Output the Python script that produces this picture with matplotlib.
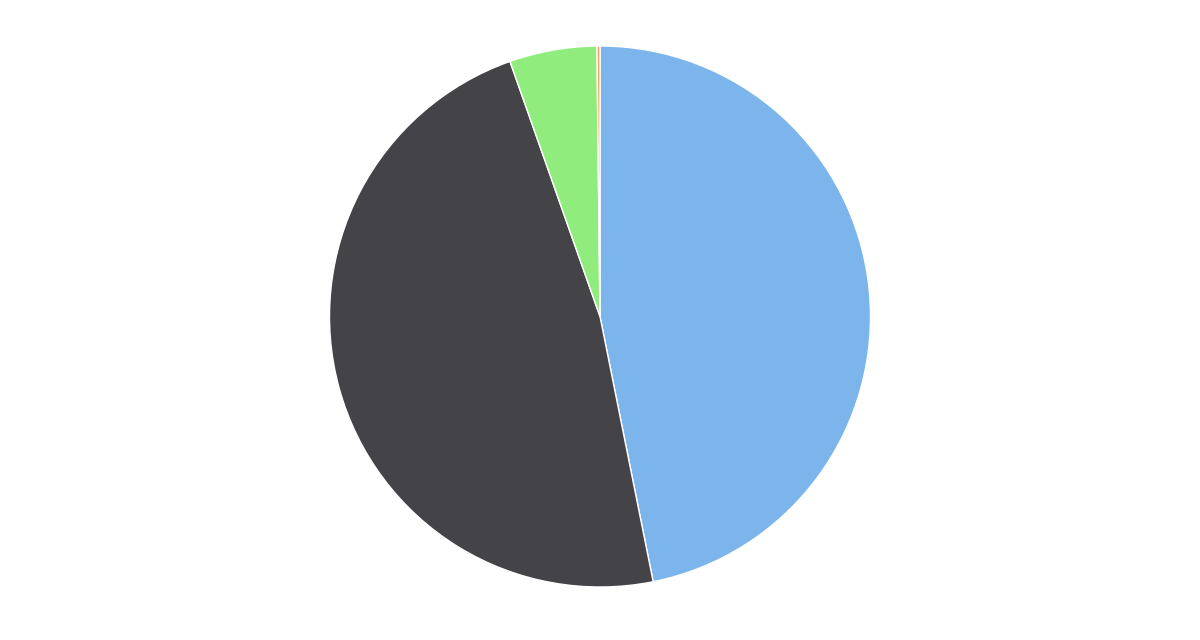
import matplotlib
matplotlib.use('Agg')
from matplotlib import pyplot as plt

labels = ['A', 'B', 'C', 'D']
values = [46.85, 47.75, 5.22, 0.18]
colors = ['#7cb5ec', '#434348', '#90ed7d', '#f7a35c']

fig = plt.figure(figsize=(12, 6.4), dpi=100)
r_px = 270.5
w = 2 * r_px / 1200
h = 2 * r_px / 640
cx = 600 / 1200
cy = (640 - 316.5) / 640
ax = fig.add_axes([cx - w / 2, cy - h / 2, w, h])
ax.pie(values, colors=colors, startangle=90, counterclock=False, radius=1,
       wedgeprops=dict(edgecolor='white', linewidth=1))
ax.set_xlim(-1, 1)
ax.set_ylim(-1, 1)
ax.set_aspect('auto')
ax.axis('off')

fig.savefig('out.png', dpi=100)
